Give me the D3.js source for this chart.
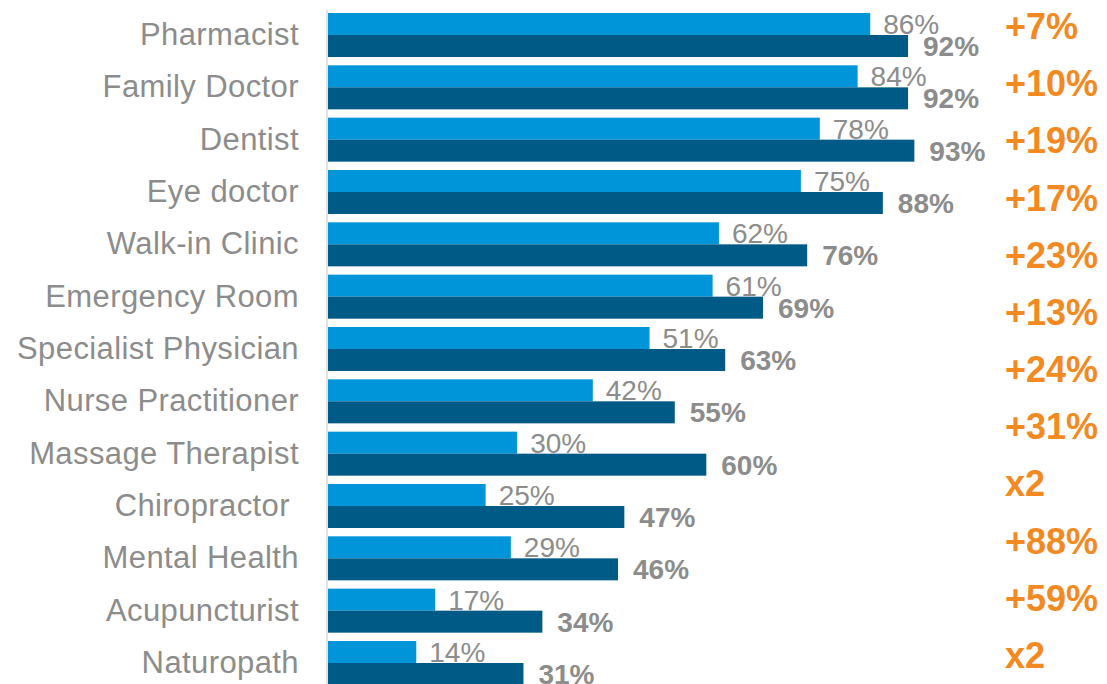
<!DOCTYPE html>
<html>
<head>
<meta charset="utf-8">
<script src="https://cdn.jsdelivr.net/npm/d3@7"></script>
<style>
  html, body { margin: 0; padding: 0; background: #fff; }
  svg text { white-space: pre; }
</style>
</head>
<body>
<svg id="chart" width="1107" height="684"></svg>
<script>
// Providers, two survey waves, and the change between them
const categories = [
  "Pharmacist", "Family Doctor", "Dentist", "Eye doctor", "Walk-in Clinic",
  "Emergency Room", "Specialist Physician", "Nurse Practitioner",
  "Massage Therapist", "Chiropractor ", "Mental Health", "Acupuncturist", "Naturopath"
];
const earlier = [86, 84, 78, 75, 62, 61, 51, 42, 30, 25, 29, 17, 14];
const later   = [92, 92, 93, 88, 76, 69, 63, 55, 60, 47, 46, 34, 31];
const changes = ["+7%", "+10%", "+19%", "+17%", "+23%", "+13%", "+24%",
                 "+31%", "x2", "+88%", "+59%", "x2"];

const svg = d3.select("#chart");
const W = 1107, H = 684;

const axisX = 328;
const x = d3.scaleLinear().domain([0, 100]).range([axisX, axisX + 630.5]);

const y = d3.scaleBand()
  .domain(categories)
  .range([13, 685])
  .paddingInner(0.159)
  .paddingOuter(0);

const sub = d3.scaleBand().domain(["earlier", "later"]).range([0, y.bandwidth()]);

const lightBlue = "#0095d9";
const darkBlue = "#005a86";
const grey = "#8c8c8c";
const orange = "#f28a21";
const font = "Liberation Sans, Arial, sans-serif";

const rows = categories.map((c, i) => ({ c, a: earlier[i], b: later[i] }));

const g = svg.append("g");

// earlier wave bars
g.selectAll("rect.a").data(rows).join("rect")
  .attr("class", "a")
  .attr("x", x(0))
  .attr("y", d => y(d.c) + sub("earlier"))
  .attr("width", d => x(d.a) - x(0))
  .attr("height", sub.bandwidth())
  .attr("fill", lightBlue);

// later wave bars
g.selectAll("rect.b").data(rows).join("rect")
  .attr("class", "b")
  .attr("x", x(0))
  .attr("y", d => y(d.c) + sub("later"))
  .attr("width", d => x(d.b) - x(0))
  .attr("height", sub.bandwidth())
  .attr("fill", darkBlue);

// category axis line
svg.append("line")
  .attr("x1", axisX - 1).attr("x2", axisX - 1)
  .attr("y1", 10).attr("y2", H)
  .attr("stroke", "#d9d9d9")
  .attr("stroke-width", 1.5);

// category labels
svg.selectAll("text.cat").data(rows).join("text")
  .attr("class", "cat")
  .attr("x", 299)
  .attr("y", d => y(d.c) + y.bandwidth() / 2 + 10)
  .attr("text-anchor", "end")
  .attr("font-family", font)
  .attr("font-size", 31)
  .attr("letter-spacing", 0.4)
  .attr("fill", grey)
  .text(d => d.c);

// value labels, earlier wave
svg.selectAll("text.va").data(rows).join("text")
  .attr("class", "va")
  .attr("x", d => x(d.a) + 13)
  .attr("y", d => y(d.c) + sub("earlier") + sub.bandwidth() - 1)
  .attr("font-family", font)
  .attr("font-size", 28)
  .attr("fill", grey)
  .text(d => d.a + "%");

// value labels, later wave
svg.selectAll("text.vb").data(rows).join("text")
  .attr("class", "vb")
  .attr("x", d => x(d.b) + 15)
  .attr("y", d => y(d.c) + sub("later") + sub.bandwidth() - 1)
  .attr("font-family", font)
  .attr("font-size", 28)
  .attr("font-weight", "bold")
  .attr("fill", grey)
  .text(d => d.b + "%");

// change column
const yc = d3.scalePoint().domain(d3.range(changes.length)).range([39, 668]);
svg.selectAll("text.chg").data(changes).join("text")
  .attr("class", "chg")
  .attr("x", 1005)
  .attr("y", (d, i) => yc(i))
  .attr("font-family", font)
  .attr("font-size", 36)
  .attr("font-weight", "bold")
  .attr("fill", orange)
  .text(d => d);
</script>
</body>
</html>
